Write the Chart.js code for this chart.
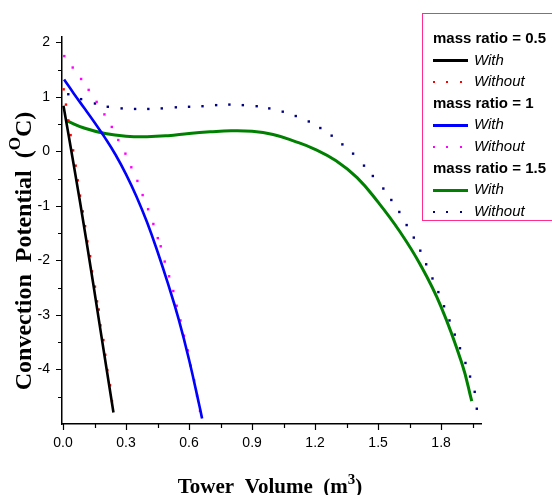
<!DOCTYPE html>
<html>
<head>
<meta charset="utf-8">
<script src="https://cdn.jsdelivr.net/npm/chart.js@4.4.1/dist/chart.umd.min.js"></script>
<style>
  html, body { margin: 0; padding: 0; background: #fff; overflow: hidden; }
  #wrap { position: relative; width: 552px; height: 495px; }
  #legendBox {
    position: absolute; left: 422px; top: 13px; width: 140px; height: 208px;
    border: 1.5px solid #ff2d8f; box-sizing: border-box; padding-top: 13px;
    font-family: "Liberation Sans", Arial, sans-serif; font-size: 15px; color: #000;
  }
  .lg-row { height: 21.6px; line-height: 21.6px; white-space: nowrap; padding-left: 10px; }
  .lg-head { font-weight: bold; }
  .lg-item { font-style: italic; }
  .lg-sample { display: inline-block; width: 35px; vertical-align: middle; margin-right: 6px; }
</style>
</head>
<body>
<div id="wrap">
  <canvas id="chart" width="552" height="495"></canvas>
  <div id="legendBox"></div>
</div>
<script>
// ---- data ----
const massRatios = ['0.5', '1', '1.5'];
const withColors = ['#000000', '#0000ff', '#008000'];
const withoutColors = ['#ff0000', '#ff00ff', '#000080'];

// mass ratio = 0.5
const with05X = [0.002, 0.052, 0.11, 0.175, 0.24];
const with05Y = [0.84, -0.27, -1.61, -3.2, -4.79];
const without05X = [0.003, 0.014, 0.025, 0.036, 0.048, 0.06, 0.07, 0.081, 0.094, 0.105, 0.116, 0.129, 0.138, 0.152, 0.162, 0.17, 0.178, 0.192, 0.201, 0.211, 0.224, 0.233];
const without05Y = [1.14, 0.86, 0.57, 0.3, 0.02, -0.26, -0.53, -0.81, -1.1, -1.37, -1.65, -1.92, -2.2, -2.48, -2.75, -2.9, -3.19, -3.46, -3.73, -4.01, -4.29, -4.58];

// mass ratio = 1
const with1X = [0.005, 0.05, 0.1, 0.15, 0.2, 0.25, 0.3, 0.35, 0.4, 0.45, 0.5, 0.55, 0.6, 0.65, 0.662];
const with1Y = [1.32, 1.07, 0.8, 0.53, 0.25, -0.06, -0.42, -0.83, -1.3, -1.84, -2.43, -3.07, -3.82, -4.68, -4.9];
const without1X = [0.006, 0.046, 0.086, 0.122, 0.16, 0.197, 0.232, 0.263, 0.297, 0.325, 0.354, 0.379, 0.405, 0.43, 0.451, 0.465, 0.484, 0.505, 0.525, 0.541, 0.559, 0.576, 0.594, 0.608, 0.624, 0.638, 0.652];
const without1Y = [1.75, 1.54, 1.33, 1.13, 0.91, 0.68, 0.45, 0.21, -0.04, -0.29, -0.54, -0.8, -1.06, -1.33, -1.59, -1.74, -2.02, -2.29, -2.56, -2.83, -3.1, -3.38, -3.65, -3.93, -4.2, -4.48, -4.76];

// mass ratio = 1.5
const with15X = [0.018, 0.1, 0.2, 0.3, 0.4, 0.5, 0.6, 0.7, 0.8, 0.9, 1.0, 1.1, 1.2, 1.3, 1.4, 1.5, 1.6, 1.7, 1.8, 1.9, 1.946];
const with15Y = [0.56, 0.43, 0.33, 0.28, 0.27, 0.29, 0.33, 0.36, 0.38, 0.37, 0.31, 0.19, 0.04, -0.17, -0.48, -0.93, -1.45, -2.07, -2.85, -3.9, -4.58];
const without15X = [0.025, 0.086, 0.152, 0.213, 0.279, 0.343, 0.406, 0.47, 0.537, 0.6, 0.664, 0.729, 0.792, 0.856, 0.922, 0.982, 1.046, 1.108, 1.17, 1.225, 1.279, 1.33, 1.381, 1.433, 1.475, 1.525, 1.563, 1.601, 1.636, 1.67, 1.701, 1.729, 1.759, 1.787, 1.814, 1.84, 1.865, 1.89, 1.916, 1.938, 1.96, 1.97];
const without15Y = [1.05, 0.96, 0.88, 0.82, 0.79, 0.78, 0.78, 0.79, 0.81, 0.82, 0.83, 0.85, 0.86, 0.85, 0.83, 0.79, 0.73, 0.65, 0.55, 0.43, 0.29, 0.13, -0.04, -0.26, -0.45, -0.68, -0.89, -1.11, -1.35, -1.58, -1.82, -2.07, -2.33, -2.58, -2.84, -3.1, -3.36, -3.61, -3.88, -4.13, -4.41, -4.72];

// ticks
const xTickVals = [0, 0.15, 0.3, 0.45, 0.6, 0.75, 0.9, 1.05, 1.2, 1.35, 1.5, 1.65, 1.8, 1.95];
const xTickLabels = ['0.0', '', '0.3', '', '0.6', '', '0.9', '', '1.2', '', '1.5', '', '1.8', ''];
const yTickVals = [-4.5, -4, -3.5, -3, -2.5, -2, -1.5, -1, -0.5, 0, 0.5, 1, 1.5, 2];
const yTickLabels = ['', '-4', '', '-3', '', '-2', '', '-1', '', '0', '', '1', '', '2'];

const toPts = (xs, ys) => xs.map((x, i) => ({ x: x, y: ys[i] }));

const withSets = [[with05X, with05Y], [with1X, with1Y], [with15X, with15Y]];
const withoutSets = [[without05X, without05Y], [without1X, without1Y], [without15X, without15Y]];

const datasets = [];
massRatios.forEach((m, i) => {
    datasets.push({
        label: 'With (mass ratio = ' + m + ')',
        data: toPts(withSets[i][0], withSets[i][1]),
        showLine: true,
        borderColor: withColors[i],
        borderWidth: i === 2 ? 3 : 2.6,
        pointRadius: 0,
        tension: 0.45
    });
    datasets.push({
        label: 'Without (mass ratio = ' + m + ')',
        data: toPts(withoutSets[i][0], withoutSets[i][1]),
        showLine: false,
        backgroundColor: withoutColors[i],
        borderWidth: 0,
        pointStyle: 'rect',
        pointRadius: 1.7
    });
});

// legend (html)
const legendBox = document.getElementById('legendBox');
massRatios.forEach((m, i) => {
    legendBox.innerHTML += `
        <div class="lg-row lg-head">mass ratio = ${m}</div>
        <div class="lg-row lg-item"><span class="lg-sample" style="height:3px;background:${withColors[i]}"></span>With</div>
        <div class="lg-row lg-item"><span class="lg-sample" style="height:2px;background:repeating-linear-gradient(to right, ${withoutColors[i]} 0 2px, transparent 2px 13.5px)"></span>Without</div>`;
});

function drawPieces(ctx, pieces, size, cx, cy) {
    // pieces: [text, isSup]
    const bigFont = 'bold ' + size + 'px "Liberation Serif", "Times New Roman", serif';
    const supFont = 'bold ' + Math.round(size * 0.72) + 'px "Liberation Serif", "Times New Roman", serif';
    let total = 0;
    pieces.forEach(p => { ctx.font = p[1] ? supFont : bigFont; total += ctx.measureText(p[0]).width; });
    let x = cx - total / 2;
    ctx.textBaseline = 'alphabetic';
    ctx.textAlign = 'left';
    pieces.forEach(p => {
        ctx.font = p[1] ? supFont : bigFont;
        ctx.fillText(p[0], x, cy - (p[1] ? size * 0.45 : 0));
        x += ctx.measureText(p[0]).width;
    });
}

const axisExtras = {
    id: 'axisExtras',
    afterDraw(chart) {
        const ctx = chart.ctx;
        const xs = chart.scales.x, ys = chart.scales.y;
        ctx.save();
        ctx.strokeStyle = '#000';
        ctx.lineWidth = 1.2;
        ctx.beginPath();
        xTickVals.forEach((v, i) => {
            const px = Math.round(xs.getPixelForValue(v)) + 0.5;
            const len = xTickLabels[i] ? 6 : 4;
            ctx.moveTo(px, ys.bottom);
            ctx.lineTo(px, ys.bottom + len);
        });
        yTickVals.forEach((v, i) => {
            const py = Math.round(ys.getPixelForValue(v)) + 0.5;
            const len = yTickLabels[i] ? 6 : 4;
            ctx.moveTo(xs.left, py);
            ctx.lineTo(xs.left - len, py);
        });
        ctx.stroke();

        ctx.fillStyle = '#000';
        drawPieces(ctx, [['Tower  Volume  (m', false], ['3', true], [')', false]], 21, 270, 493);
        ctx.translate(31, 251);
        ctx.rotate(-Math.PI / 2);
        drawPieces(ctx, [['Convection  Potential  (', false], ['O', true], ['C)', false]], 24, 0, 0);
        ctx.restore();
    }
};

const tickFont = { family: '"Liberation Sans", Arial, sans-serif', size: 14 };

new Chart(document.getElementById('chart'), {
    type: 'scatter',
    data: { datasets: datasets },
    options: {
        responsive: false,
        devicePixelRatio: 1,
        animation: false,
        layout: { padding: { left: 0, right: 71, top: 37, bottom: 0 } },
        plugins: { legend: { display: false }, tooltip: { enabled: false } },
        scales: {
            x: {
                type: 'linear',
                min: -0.005,
                max: 1.99,
                afterBuildTicks: s => { s.ticks = xTickVals.map(v => ({ value: v })); },
                afterFit: s => { s.height = 71; },
                grid: { display: true, drawOnChartArea: false, drawTicks: false },
                border: { display: true, color: '#000', width: 1.5 },
                ticks: {
                    autoSkip: false, maxRotation: 0, padding: 11, color: '#000', font: tickFont,
                    callback: (v, i) => xTickLabels[i]
                }
            },
            y: {
                type: 'linear',
                min: -5,
                max: 2.1,
                afterBuildTicks: s => { s.ticks = yTickVals.map(v => ({ value: v })); },
                afterFit: s => { s.width = 62; },
                grid: { display: true, drawOnChartArea: false, drawTicks: false },
                border: { display: true, color: '#000', width: 1.5 },
                ticks: {
                    autoSkip: false, padding: 12, color: '#000', font: tickFont,
                    callback: (v, i) => yTickLabels[i]
                }
            }
        }
    },
    plugins: [axisExtras]
});
</script>
</body>
</html>
